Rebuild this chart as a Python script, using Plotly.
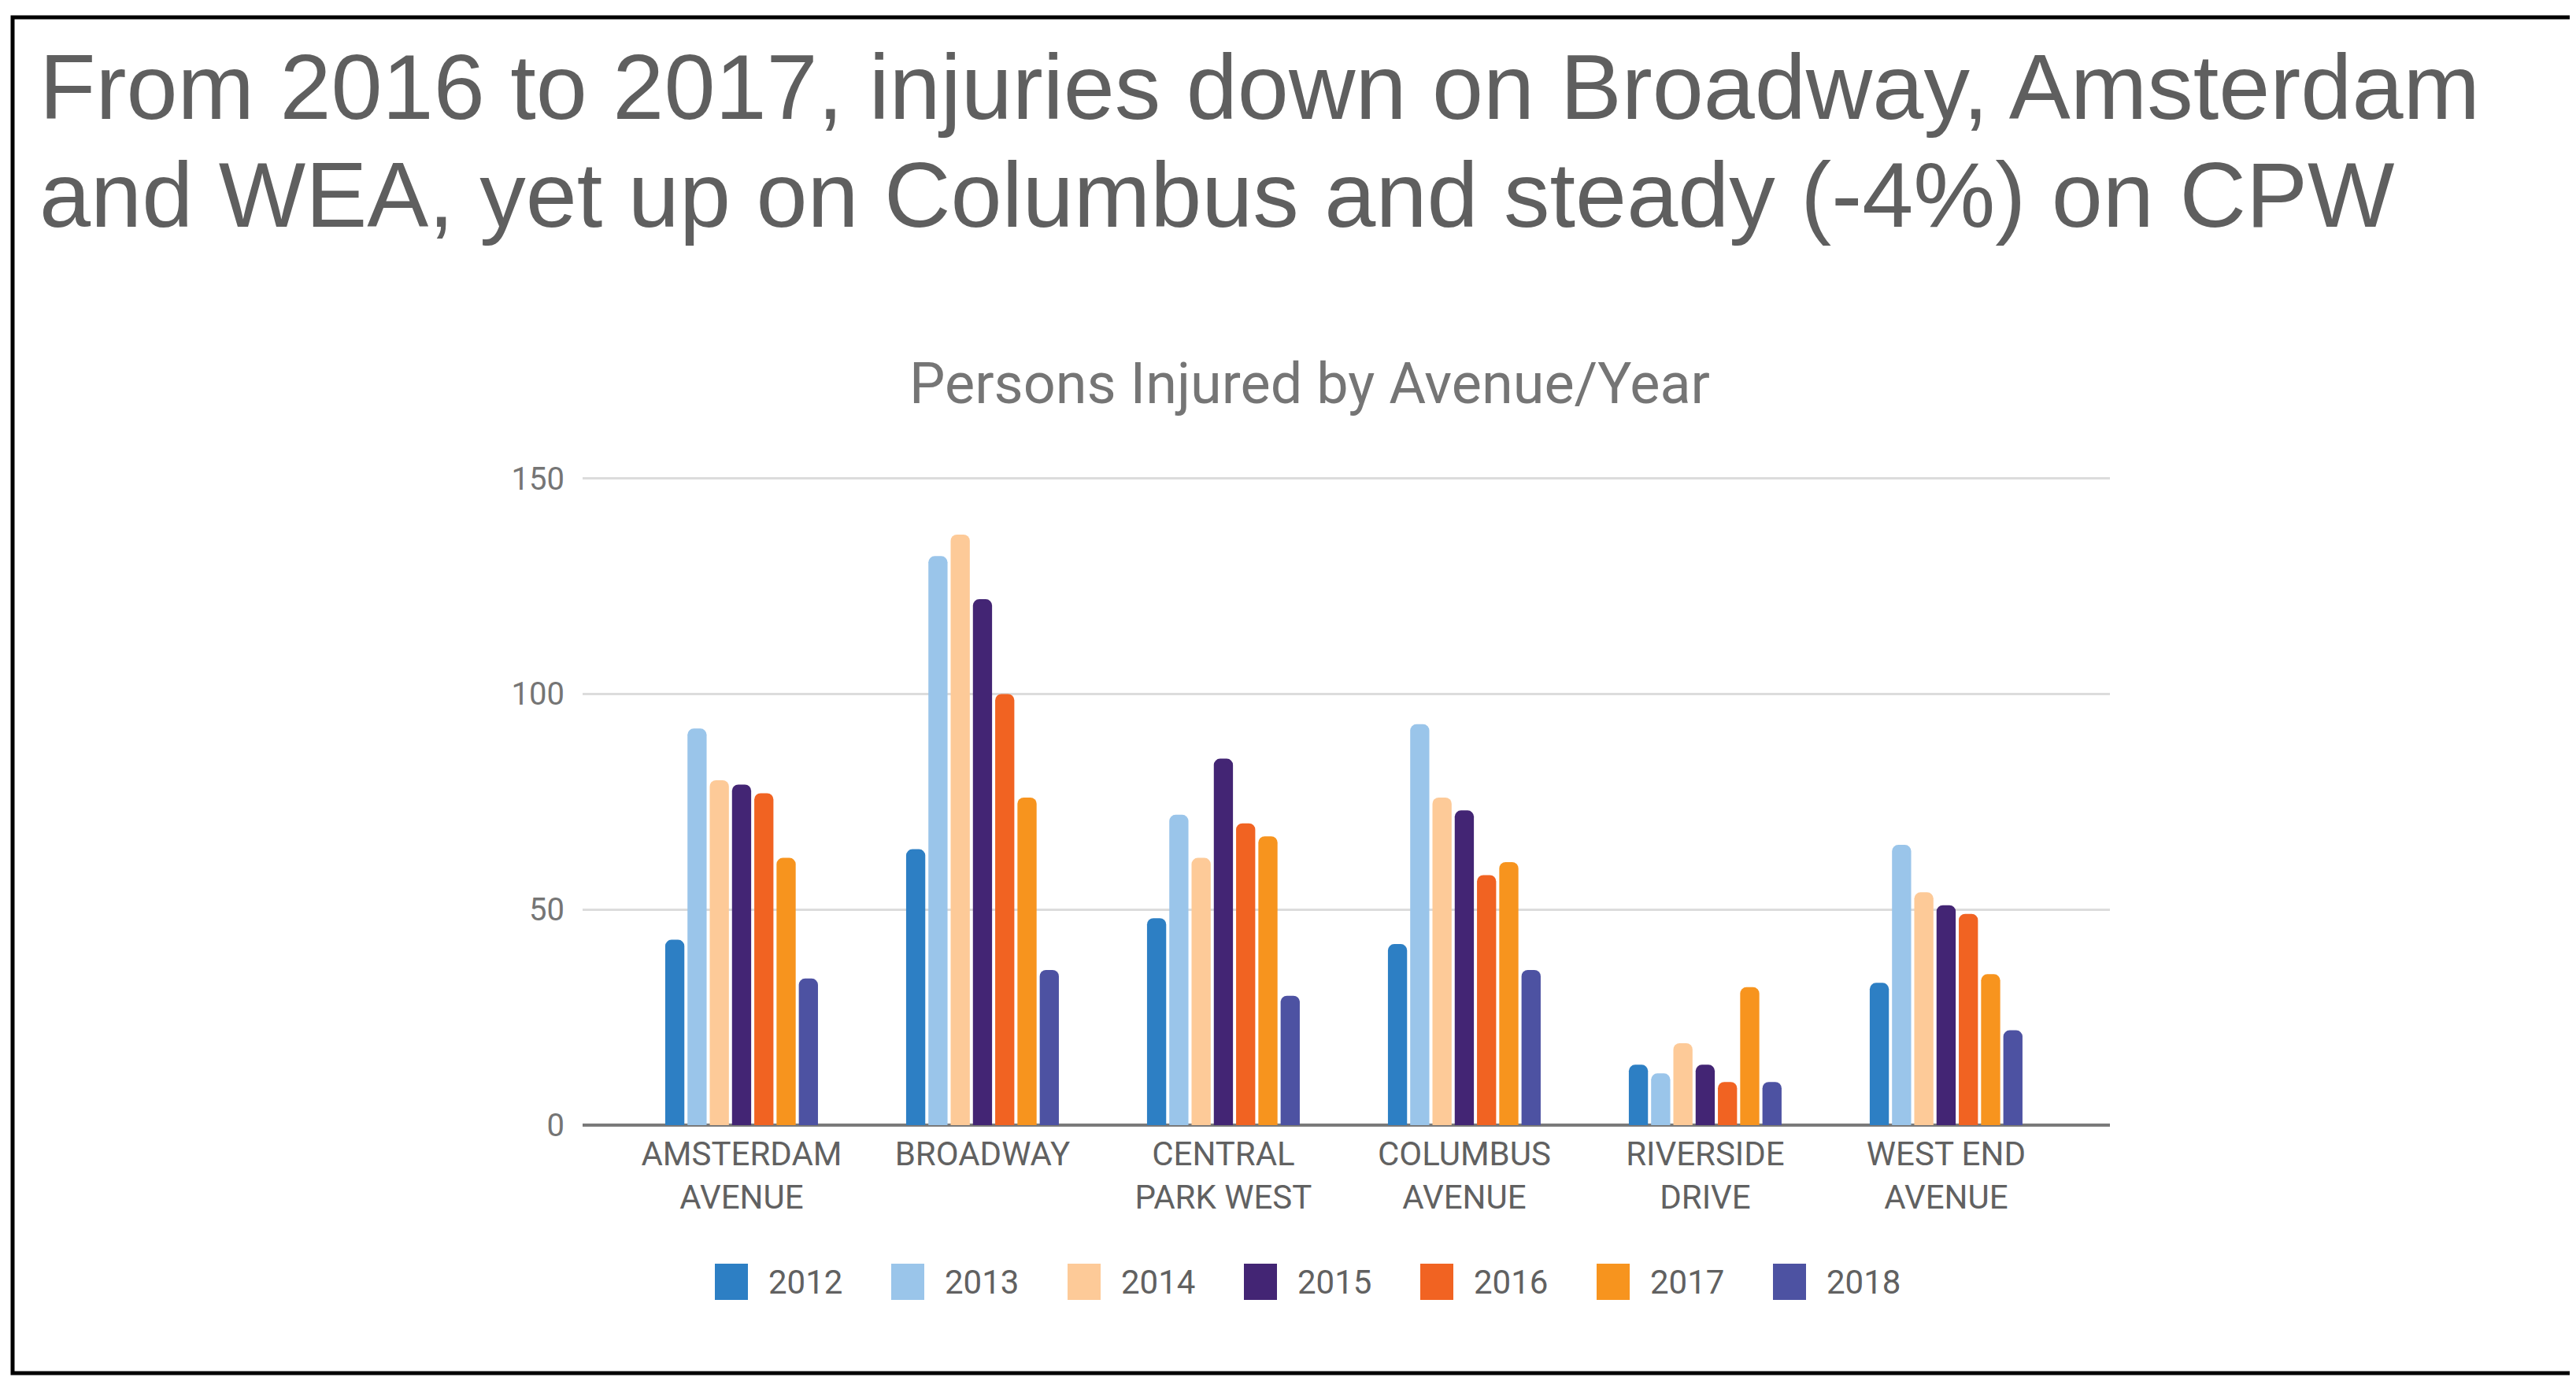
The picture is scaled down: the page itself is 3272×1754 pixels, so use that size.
import plotly.graph_objects as go

# data
avenues = ["AMSTERDAM<br>AVENUE", "BROADWAY", "CENTRAL<br>PARK WEST",
           "COLUMBUS<br>AVENUE", "RIVERSIDE<br>DRIVE", "WEST END<br>AVENUE"]
years = ["2012", "2013", "2014", "2015", "2016", "2017", "2018"]
injured_2012 = [43, 64, 48, 42, 14, 33]
injured_2013 = [92, 132, 72, 93, 12, 65]
injured_2014 = [80, 137, 62, 76, 19, 54]
injured_2015 = [79, 122, 85, 73, 14, 51]
injured_2016 = [77, 100, 70, 58, 10, 49]
injured_2017 = [62, 76, 67, 61, 32, 35]
injured_2018 = [34, 36, 30, 36, 10, 22]
y_ticks = [0, 50, 100, 150]

series = [injured_2012, injured_2013, injured_2014, injured_2015,
          injured_2016, injured_2017, injured_2018]
colors = ["#2d7fc4", "#9ac5ea", "#fdca98", "#432574",
          "#f16322", "#f7941e", "#4d52a2"]

W, H = 3272, 1754
L, R, T, B = 732, 600, 597, 333
PW, PH = W - L - R, H - T - B


def px_x(x):
    return (x - L) / PW


def px_y(y):
    return (H - B - y) / PH


fig = go.Figure()
for year, vals, col in zip(years, series, colors):
    fig.add_trace(go.Bar(x=avenues, y=vals, name=year,
                         marker=dict(color=col, cornerradius=8, line_width=0)))

shapes = []
annotations = []

# outer frame
shapes.append(dict(type="rect", xref="paper", yref="paper",
                   x0=px_x(8), x1=px_x(3260), y0=px_y(14), y1=px_y(1736),
                   line=dict(color="black", width=5), fillcolor="rgba(0,0,0,0)"))

# headline
title_lines = ["From 2016 to 2017, injuries down on Broadway, Amsterdam",
               "and WEA, yet up on Columbus and steady (-4%) on CPW"]
for i, line in enumerate(title_lines):
    annotations.append(dict(text=line, xref="paper", yref="paper",
                            x=px_x(40), y=px_y(103 + i * 136),
                            xanchor="left", yanchor="middle", showarrow=False,
                            font=dict(family="Liberation Sans", size=117, color="#5f5f5f")))

# chart title
annotations.append(dict(text="Persons Injured by Avenue/Year", xref="paper", yref="paper",
                        x=px_x(1655), y=px_y(480), xanchor="center", yanchor="middle",
                        showarrow=False,
                        font=dict(family="Roboto", size=72, color="#757575")))

# legend drawn by hand so the keys can be large
for i, (year, col) in enumerate(zip(years, colors)):
    x0 = 900 + i * 224
    shapes.append(dict(type="rect", xref="paper", yref="paper",
                       x0=px_x(x0), x1=px_x(x0 + 42), y0=px_y(1597), y1=px_y(1643),
                       line=dict(width=0), fillcolor=col))
    annotations.append(dict(text=year, xref="paper", yref="paper",
                            x=px_x(x0 + 66), y=px_y(1620), xanchor="left", yanchor="middle",
                            showarrow=False,
                            font=dict(family="Roboto", size=42, color="#616161")))

fig.update_layout(
    width=W, height=H,
    margin=dict(l=L, r=R, t=T, b=B, autoexpand=False),
    paper_bgcolor="white", plot_bgcolor="white",
    barmode="group", bargap=0.353, bargroupgap=0.14,
    showlegend=False,
    font=dict(family="Roboto", size=42, color="#757575"),
    shapes=shapes, annotations=annotations,
)
fig.update_xaxes(range=[-0.66, 5.68], showgrid=False, ticks="", showline=False,
                 tickfont=dict(size=42, color="#616161"), ticklabelstandoff=8)
fig.update_yaxes(range=[0, 150.5], tickvals=y_ticks, showgrid=True, gridcolor="#dcdcdc",
                 gridwidth=3, zeroline=True, zerolinecolor="#7a7a7a", zerolinewidth=4,
                 showline=False, ticks="", tickfont=dict(size=40, color="#757575"),
                 ticklabelstandoff=22)

fig.write_html("out.html")
